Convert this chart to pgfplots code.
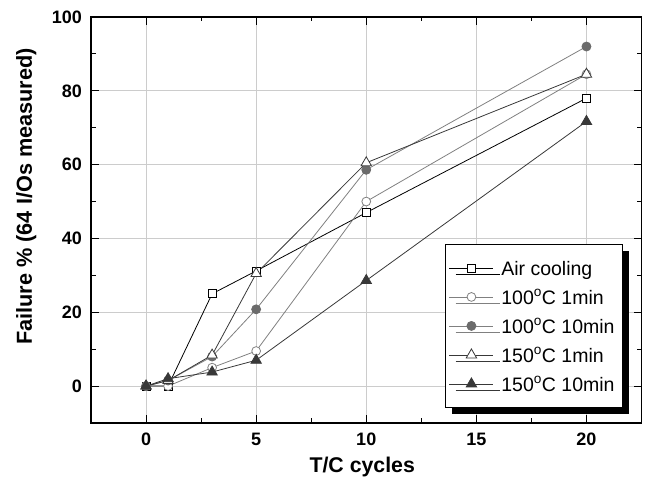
\documentclass[border=0pt]{standalone}
\usepackage{fontspec}
\setmainfont{Liberation Sans}
\usepackage{pgfplots}
\pgfplotsset{compat=1.18}
\usetikzlibrary{shadows}
\makeatletter
\newcommand\nopre{\let\tikz@preactions\pgfutil@empty\let\tikz@postactions\pgfutil@empty}
\makeatother
\definecolor{gridc}{gray}{0.80}
\definecolor{lgray}{gray}{0.50}
\definecolor{mgray}{gray}{0.42}
\definecolor{dgray}{gray}{0.22}
\begin{document}
\begin{tikzpicture}
\begin{axis}[
  at={(0pt,0pt)}, anchor=south west,
  scale only axis, width=550.5pt, height=406pt,
  xmin=-2.5, xmax=22.5, ymin=-10, ymax=100,
  xtick={0,5,10,15,20}, ytick={0,20,40,60,80,100},
  minor x tick num=1, minor y tick num=1,
  tick align=inside, major tick length=8pt, minor tick length=4.5pt,
  every tick/.style={black, line width=1pt},
  axis line style={line width=1.2pt},
  grid=major, major grid style={gridc, line width=0.8pt},
  /pgf/number format/assume math mode=true,
  ticklabel style={font=\fontsize{18}{21}\selectfont\bfseries, inner sep=0pt},
  xticklabel style={anchor=north, yshift=-10pt},
  yticklabel style={anchor=east, xshift=-9pt},
  xlabel={T/C cycles},
  ylabel={Failure \% (64 I/Os measured)},
  xlabel style={font=\fontsize{21.3}{25}\selectfont\bfseries,
    at={(axis description cs:0.4927,-0.1207)}, anchor=base},
  ylabel style={font=\fontsize{21.7}{25}\selectfont\bfseries,
    at={(axis description cs:-0.1072,0.558)}, anchor=base},
  legend cell align=left,
  legend image code/.code={\nopre\draw[mark repeat=2,mark phase=2] plot coordinates {(0pt,0pt) (22pt,0pt) (44pt,0pt)};},
  legend style={at={(rel axis cs:0.9655,0.4409)}, anchor=north east,
    draw=black, line width=0.9pt, fill=white,
    font=\fontsize{19.5}{23}\selectfont,
    drop shadow={shadow xshift=6.5pt, shadow yshift=-6.5pt, opacity=1, fill=black},
    inner xsep=4pt, inner ysep=9pt, row sep=0pt, column sep=4pt,
    nodes={inner ysep=3pt, inner xsep=3.5pt, text height=19pt, text depth=4pt}},
]
\addplot[black, line width=0.8pt, mark=square*, mark options={fill=white, draw=black, line width=0.8pt}, mark size=4pt]
  coordinates {(0,0) (1,0) (3,25) (5,31.2) (10,47) (20,78)};
\addlegendentry{Air cooling}
\addplot[lgray, line width=0.8pt, mark=*, mark options={fill=white, draw=lgray, line width=0.8pt}, mark size=4.4pt]
  coordinates {(0,0) (1,0) (3,5) (5,9.5) (10,50) (20,84.5)};
\addlegendentry{100\textsuperscript{o}C 1min}
\addplot[lgray, line width=0.8pt, mark=*, mark options={fill=mgray, draw=mgray, line width=0.8pt}, mark size=4.5pt]
  coordinates {(0,0) (1,1.5) (3,8) (5,20.8) (10,58.6) (20,92)};
\addlegendentry{100\textsuperscript{o}C 10min}
\addplot[dgray, line width=0.8pt, mark=triangle*, mark options={fill=white, draw=dgray, line width=0.8pt}, mark size=6pt]
  coordinates {(0,0) (1,1.5) (3,8.4) (5,30.5) (10,60.5) (20,84.5)};
\addlegendentry{150\textsuperscript{o}C 1min}
\addplot[dgray, line width=0.8pt, mark=triangle*, mark options={fill=dgray, draw=dgray, line width=0.8pt}, mark size=6pt]
  coordinates {(0,0) (1,2) (3,3.8) (5,7) (10,28.6) (20,71.7)};
\addlegendentry{150\textsuperscript{o}C 10min}
\end{axis}
\pgfresetboundingbox
\path (-91pt,-63pt) rectangle (556pt,423pt);
\end{tikzpicture}
\end{document}
